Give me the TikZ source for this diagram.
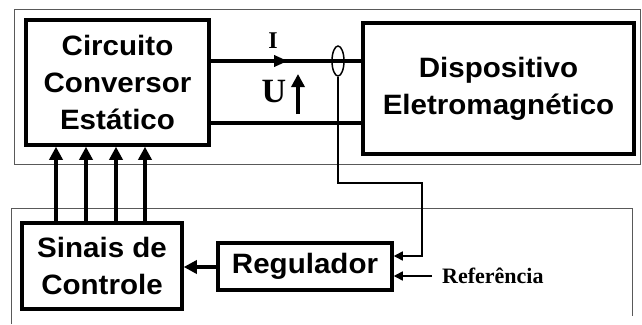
\documentclass[tikz,border=0pt]{standalone}
\usepackage{fontspec}
\usetikzlibrary{arrows.meta,calc,shapes.geometric}
\newfontfamily\boxfont{Liberation Sans}[FakeStretch=1.055]
\newfontfamily\serfont{Liberation Serif}
\begin{document}
\begin{tikzpicture}[x=1pt,y=-1pt,
  blk/.style={draw,line width=3.5pt,inner sep=0pt,align=center,font=\boxfont\bfseries\fontsize{28}{37}\selectfont},
  thick line/.style={line width=3.5pt},
  ctl/.style={line width=4pt,-{Triangle[length=13pt,width=13pt]}},
  frame/.style={draw=black!65,line width=1pt},
  wire/.style={line width=1.5pt},
  lbl/.style={font=\serfont\bfseries\fontsize{22}{26}\selectfont,inner sep=0pt}]
\useasboundingbox (0,0) rectangle (642,324);
% outer frames
\draw[frame] (14,9) rectangle (640,164);
\draw[frame] (11,324) -- (11,208) -- (632,208) -- (632,316);
% blocks
\node[blk,minimum width=183pt,minimum height=125pt] (cc) at (117.5,82.5)
  {\fontsize{28}{36.5}\selectfont Circuito\\Conversor\\Estático};
\node[blk,line width=4pt,minimum width=271pt,minimum height=131pt] (dev) at (498.5,88.5)
  {Dispositivo\\Eletromagnético};
\node[blk,minimum width=160pt,minimum height=86pt] (sc) at (102,266)
  {\fontsize{28}{40}\selectfont Sinais de\\Controle};
\node[blk,minimum width=174pt,minimum height=47pt] (reg) at (305,266.5) {Regulador};
% power lines
\draw[thick line] (cc.east |- 0,61) -- (dev.west |- 0,61);
\draw[thick line] (cc.east |- 0,123) -- (dev.west |- 0,123);
\coordinate (ia) at (240,61);
\coordinate (ib) at (288,61);
\draw[line width=4pt,-{Triangle[length=14pt,width=11pt]}] (ia) -- (ib);
\node[lbl,font=\serfont\bfseries\fontsize{24}{28}\selectfont] (I) at (273,41) {I};
\coordinate (ua) at (298,114);
\coordinate (ub) at (298,74);
\draw[line width=4pt,-{Triangle[length=13pt,width=13pt]}] (ua) -- (ub);
\node[lbl,font=\serfont\bfseries\fontsize{34}{38}\selectfont] (U) at (274,91.5) {U};
% current sensor
\node[draw,ellipse,line width=1.5pt,minimum width=12pt,minimum height=30pt,inner sep=0pt] (ct) at (338,61) {};
\coordinate (f1) at (422,183);
\draw[wire,-{Triangle[length=9pt,width=9pt]}] (ct.south) |- (f1) |- (reg.east |- 0,256);
% reference
\node[lbl,anchor=west] (ref) at (442,276) {Referência};
\draw[wire,-{Triangle[length=9pt,width=9pt]}] (ref.west) ++(-10,0) coordinate (r0) -- (reg.east |- r0);
% regulator to signals
\draw[line width=3.5pt,-{Triangle[length=13pt,width=13pt]}] (reg.west |- 0,267) -- (sc.east |- 0,267);
% control arrows
\foreach \x in {56,86,116,145}
  \draw[ctl] (sc.north -| \x,0) -- (cc.south -| \x,0);
\end{tikzpicture}
\end{document}
